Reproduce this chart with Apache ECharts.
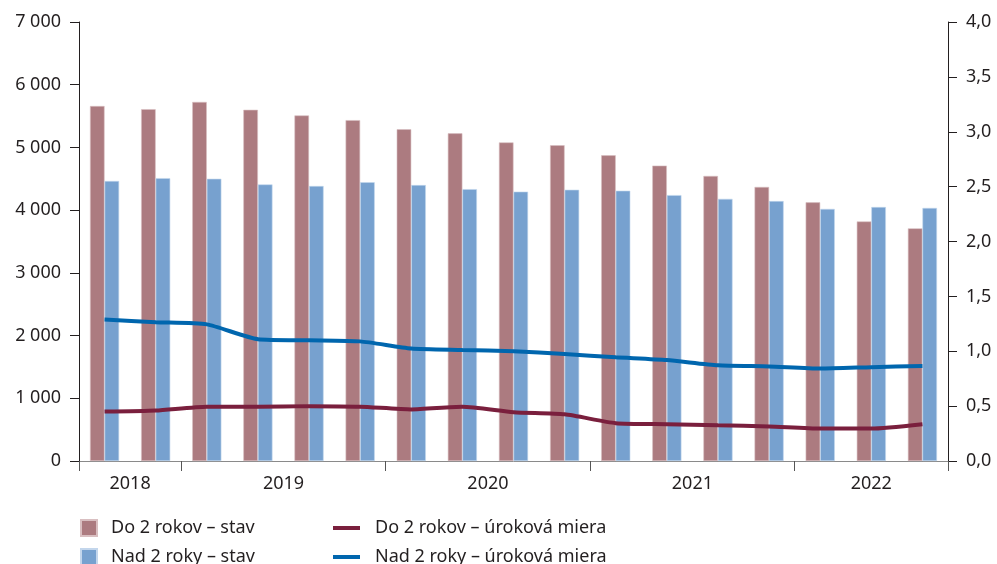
<!DOCTYPE html>
<html>
<head>
<meta charset="utf-8">
<script src="https://cdn.jsdelivr.net/npm/echarts@6/dist/echarts.min.js"></script>
<style>
  html, body { margin: 0; padding: 0; background: #fff; }
  #chart { width: 997px; height: 564px; }
</style>
</head>
<body>
<div id="chart"></div>
<script>
// quarters 2018 Q3 - 2022 Q3
const quarters = ['2018 Q3', '2018 Q4', '2019 Q1', '2019 Q2', '2019 Q3', '2019 Q4',
  '2020 Q1', '2020 Q2', '2020 Q3', '2020 Q4', '2021 Q1', '2021 Q2', '2021 Q3', '2021 Q4',
  '2022 Q1', '2022 Q2', '2022 Q3'];
const doStav = [5660, 5610, 5725, 5600, 5510, 5435, 5290, 5225, 5080, 5035, 4875, 4710, 4545, 4370, 4125, 3820, 3710];
const nadStav = [4465, 4510, 4500, 4410, 4385, 4445, 4400, 4335, 4295, 4325, 4310, 4240, 4180, 4145, 4020, 4050, 4035];
const doMiera = [0.45, 0.46, 0.495, 0.495, 0.50, 0.495, 0.47, 0.495, 0.445, 0.425, 0.345, 0.335, 0.325, 0.315, 0.295, 0.295, 0.335];
const nadMiera = [1.29, 1.265, 1.245, 1.11, 1.10, 1.09, 1.025, 1.012, 1.0, 0.975, 0.945, 0.92, 0.872, 0.862, 0.842, 0.855, 0.866];
const seriesNames = ['Do 2 rokov – stav', 'Nad 2 roky – stav', 'Do 2 rokov – úroková miera', 'Nad 2 roky – úroková miera'];

// year groups from the quarter list: boundaries for ticks, centres for labels
const years = [];
const yearStart = {};
const yearCount = {};
quarters.forEach(function (q, i) {
  const y = q.slice(0, 4);
  if (!(y in yearStart)) { years.push(y); yearStart[y] = i; yearCount[y] = 0; }
  yearCount[y]++;
});
const yearTicks = years.map(function (y) { return yearStart[y]; }).concat([quarters.length]);
const yearCenters = years.map(function (y) { return yearStart[y] + yearCount[y] / 2; });

const font = 'Noto Sans';
const textColor = '#231f20';

// one legend per entry, laid out as 2 columns x 2 rows
function legendItem(name, left, top, isLine) {
  return {
    left: left, top: top,
    icon: 'rect',
    itemWidth: isLine ? 27 : 16,
    itemHeight: isLine ? 4 : 16,
    padding: 0,
    textStyle: { fontSize: 18, color: textColor, padding: [0, 0, 0, isLine ? 10 : 9] },
    data: [name]
  };
}

const chart = echarts.init(document.getElementById('chart'));
chart.setOption({
  animation: false,
  textStyle: { fontFamily: font },
  grid: { left: 79, right: 49, top: 22, bottom: 103 },
  legend: [
    legendItem(seriesNames[0], 80, 519, false),
    legendItem(seriesNames[1], 80, 548, false),
    legendItem(seriesNames[2], 333, 519, true),
    legendItem(seriesNames[3], 333, 548, true)
  ],
  xAxis: [
    {
      type: 'category',
      data: quarters,
      axisLine: { lineStyle: { color: '#8a8a8a', width: 1 } },
      axisTick: { show: false },
      axisLabel: { show: false }
    },
    {
      type: 'value',
      position: 'bottom',
      min: 0,
      max: quarters.length,
      splitLine: { show: false },
      axisLine: { show: false },
      axisTick: { show: true, length: 10, customValues: yearTicks, lineStyle: { color: '#555' } },
      axisLabel: {
        customValues: yearCenters,
        margin: 14,
        fontSize: 18,
        color: textColor,
        formatter: function (v) {
          const i = yearCenters.indexOf(v);
          return i >= 0 ? years[i] : '';
        }
      }
    }
  ],
  yAxis: [
    {
      type: 'value', min: 0, max: 7000, interval: 1000,
      splitLine: { show: false },
      axisLine: { show: true, lineStyle: { color: '#231f20' } },
      axisTick: { show: true, length: 9, lineStyle: { color: '#231f20' } },
      axisLabel: {
        margin: 18, fontSize: 18, color: textColor,
        formatter: function (v) { return v >= 1000 ? Math.floor(v / 1000) + ' ' + String(v % 1000).padStart(3, '0') : String(v); }
      }
    },
    {
      type: 'value', min: 0, max: 4, interval: 0.5, position: 'right',
      splitLine: { show: false },
      axisLine: { show: true, lineStyle: { color: '#231f20' } },
      axisTick: { show: true, length: 9, lineStyle: { color: '#231f20' } },
      axisLabel: {
        margin: 18, fontSize: 18, color: textColor,
        formatter: function (v) { return v.toFixed(1).replace('.', ','); }
      }
    }
  ],
  series: [
    {
      name: seriesNames[0], type: 'bar', data: doStav,
      barWidth: '28.5%', barGap: '0%',
      itemStyle: { color: '#ac7b80', borderColor: '#d9bfc1', borderWidth: 0.6 }
    },
    {
      name: seriesNames[1], type: 'bar', data: nadStav,
      barWidth: '28.5%', barGap: '0%',
      itemStyle: { color: '#77a1cf', borderColor: '#c3d6ec', borderWidth: 0.6 }
    },
    {
      name: seriesNames[2], type: 'line', data: doMiera, yAxisIndex: 1,
      symbol: 'none', smooth: 0.2,
      lineStyle: { color: '#7a1f3d', width: 4 },
      itemStyle: { color: '#7a1f3d' }
    },
    {
      name: seriesNames[3], type: 'line', data: nadMiera, yAxisIndex: 1,
      symbol: 'none', smooth: 0.2,
      lineStyle: { color: '#0066ae', width: 4 },
      itemStyle: { color: '#0066ae' }
    }
  ]
});
</script>
</body>
</html>
